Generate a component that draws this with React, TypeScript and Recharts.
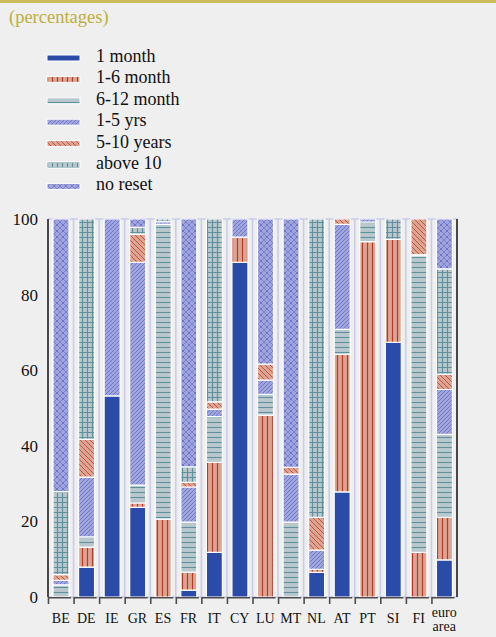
import React from 'react';
import { BarChart, Bar, XAxis, YAxis, CartesianGrid } from 'recharts';

const countries = ['BE', 'DE', 'IE', 'GR', 'ES', 'FR', 'IT', 'CY', 'LU', 'MT', 'NL', 'AT', 'PT', 'SI', 'FI', 'euro area'];

// stacked from the bottom up, in percent
const oneMonth = [0, 7.9, 53.2, 23.7, 0, 1.8, 11.8, 88.5, 0, 0, 6.5, 27.8, 0, 67.4, 0, 9.8];
const oneToSixMonth = [0, 5.3, 0, 1.2, 20.6, 4.8, 23.8, 6.7, 48.1, 0, 0.8, 36.4, 94, 27.2, 11.8, 11.3];
const sixToTwelveMonth = [3.2, 2.7, 0, 4.7, 78, 13.2, 12.1, 0, 5.5, 19.8, 0, 6.6, 5.2, 0, 78.5, 21.9];
const oneToFiveYrs = [1.2, 15.8, 46.8, 58.9, 0.7, 9.3, 2, 4.8, 3.8, 12.7, 5.1, 27.8, 0.8, 0, 0.3, 11.9];
const fiveToTenYears = [1.5, 10, 0, 7.5, 0, 1.2, 1.9, 0, 4.2, 1.8, 8.7, 1.4, 0, 0, 9.4, 4];
const aboveTen = [22, 58.3, 0, 1.8, 0.7, 4.1, 48.4, 0, 0, 0, 78.9, 0, 0, 5.4, 0, 27.9];
const noReset = [72.1, 0, 0, 2.2, 0, 65.6, 0, 0, 38.4, 65.7, 0, 0, 0, 0, 0, 13.2];

const yTicks = [0, 20, 40, 60, 80, 100];

const series = [
  { key: 'm1', name: '1 month', values: oneMonth, fill: '#2b4ba8' },
  { key: 'm16', name: '1-6 month', values: oneToSixMonth, fill: 'url(#pat16)' },
  { key: 'm612', name: '6-12 month', values: sixToTwelveMonth, fill: 'url(#pat612)' },
  { key: 'y15', name: '1-5 yrs', values: oneToFiveYrs, fill: 'url(#pat15)' },
  { key: 'y510', name: '5-10 years', values: fiveToTenYears, fill: 'url(#pat510)' },
  { key: 'a10', name: 'above 10', values: aboveTen, fill: 'url(#patA10)' },
  { key: 'nr', name: 'no reset', values: noReset, fill: 'url(#patNR)' },
];

const data = countries.map((c, i) => {
  const row: any = { country: c };
  series.forEach((s) => { row[s.key] = s.values[i]; });
  return row;
});

const FONT = "'Liberation Serif', 'Times New Roman', serif";
const PLOT_W = 409;
const BAND = PLOT_W / countries.length;

const Patterns = () => (
  <defs>
    <pattern id="pat16" width="5" height="10" patternUnits="userSpaceOnUse">
      <rect width="5" height="10" fill="#dca592" />
      <line x1="2.5" y1="0" x2="2.5" y2="10" stroke="#b63a2b" strokeWidth="1.2" />
    </pattern>
    <pattern id="pat612" width="10" height="5" patternUnits="userSpaceOnUse">
      <rect width="10" height="5" fill="#b9c8cd" />
      <line x1="0" y1="2.5" x2="10" y2="2.5" stroke="#5f909e" strokeWidth="1.1" />
    </pattern>
    <pattern id="pat15" width="4" height="4" patternUnits="userSpaceOnUse">
      <rect width="4" height="4" fill="#a0a6dc" />
      <path d="M0,4 L4,0 M-1,1 L1,-1 M3,5 L5,3" stroke="#5866c4" strokeWidth="0.7" />
    </pattern>
    <pattern id="pat510" width="5" height="5" patternUnits="userSpaceOnUse">
      <rect width="5" height="5" fill="#dca592" />
      <path d="M0,0 L5,5 M-1,4 L1,6 M4,-1 L6,1" stroke="#c0483c" strokeWidth="0.9" />
    </pattern>
    <pattern id="patA10" width="5" height="5" patternUnits="userSpaceOnUse">
      <rect width="5" height="5" fill="#b9c8cd" />
      <path d="M2.5,0 V5 M0,2.5 H5" stroke="#5f909e" strokeWidth="1.2" />
    </pattern>
    <pattern id="patNR" width="6" height="6" patternUnits="userSpaceOnUse">
      <rect width="6" height="6" fill="#a0a6dc" />
      <path d="M0,0 L6,6 M6,0 L0,6" stroke="#7880cf" strokeWidth="1" />
      <circle cx="3" cy="3" r="0.6" fill="#3a52b5" />
    </pattern>
  </defs>
);

const XTick = (props: any) => {
  const { x, y, payload } = props;
  const left = x - BAND / 2;
  const parts = String(payload.value).split(' ');
  return (
    <g>
      <path
        d={`M${left + 0.5},${y + 7} V${y + 0.8} H${left + BAND - 2.5}`}
        stroke="#4d4d4d"
        strokeWidth={1.6}
        fill="none"
      />
      <text x={x} y={y + 26} textAnchor="middle" fontFamily={FONT} fontSize={14} fill="#111">
        {parts.length > 1
          ? parts.map((p, i) => (
              <tspan key={i} x={x} dy={i === 0 ? -6 : 14}>{p}</tspan>
            ))
          : parts[0]}
      </text>
    </g>
  );
};

const YTick = (props: any) => {
  const { x, y, payload, textAnchor } = props;
  return (
    <text x={x} y={y} dy={6} textAnchor={textAnchor} fontFamily={FONT} fontSize={17} fill="#111">
      {payload.value}
    </text>
  );
};

export default function App() {
  return (
    <div style={{ position: 'absolute', left: 0, top: 0, width: 496, height: 637, background: '#efefef', overflow: 'hidden', fontFamily: FONT }}>
      {/* title, legend and the shared fill patterns */}
      <svg width={496} height={200} style={{ position: 'absolute', left: 0, top: 0 }}>
        <Patterns />
        <rect x={0} y={0} width={496} height={3} fill="#cbbd5e" />
        <text x={9} y={23} fontFamily={FONT} fontSize={18.5} fill="#bfae3c">(percentages)</text>
        {series.map((s, i) => (
          <g key={s.key}>
            <rect x={47} y={55 + i * 21.4} width={33} height={6} fill={s.fill} stroke="#fff" strokeWidth={1} />
            <text x={96} y={62 + i * 21.4} fontFamily={FONT} fontSize={18} fill="#111">{s.name}</text>
          </g>
        ))}
      </svg>

      <BarChart
        width={496}
        height={637}
        data={data}
        margin={{ top: 219, right: 0, bottom: 0, left: 0 }}
        barSize={16}
        style={{ position: 'absolute', left: 0, top: 0 }}
      >
        <CartesianGrid
          stroke="#c9cce9"
          strokeWidth={1.6}
          verticalCoordinatesGenerator={({ offset }: any) =>
            countries.slice(1).map((_, k) => offset.left + ((k + 1) * offset.width) / countries.length)
          }
        />
        <XAxis
          dataKey="country"
          height={40}
          interval={0}
          axisLine={false}
          tickLine={false}
          tickSize={0}
          tickMargin={0}
          tick={<XTick />}
        />
        <YAxis
          yAxisId="left"
          width={48}
          domain={[0, 100]}
          ticks={yTicks}
          axisLine={{ stroke: '#111', strokeWidth: 1.5 }}
          tickLine={false}
          tickSize={6}
          tickMargin={4}
          tick={<YTick />}
        />
        <YAxis
          yAxisId="right"
          orientation="right"
          width={39}
          domain={[0, 100]}
          ticks={yTicks}
          axisLine={{ stroke: '#111', strokeWidth: 1.5 }}
          tickLine={false}
          tickSize={6}
          tickMargin={3}
          tick={<YTick />}
        />
        {series.map((s) => (
          <Bar
            key={s.key}
            dataKey={s.key}
            name={s.name}
            stackId="a"
            yAxisId="left"
            fill={s.fill}
            stroke="#ffffff"
            strokeWidth={1.2}
            isAnimationActive={false}
          />
        ))}
      </BarChart>
    </div>
  );
}
